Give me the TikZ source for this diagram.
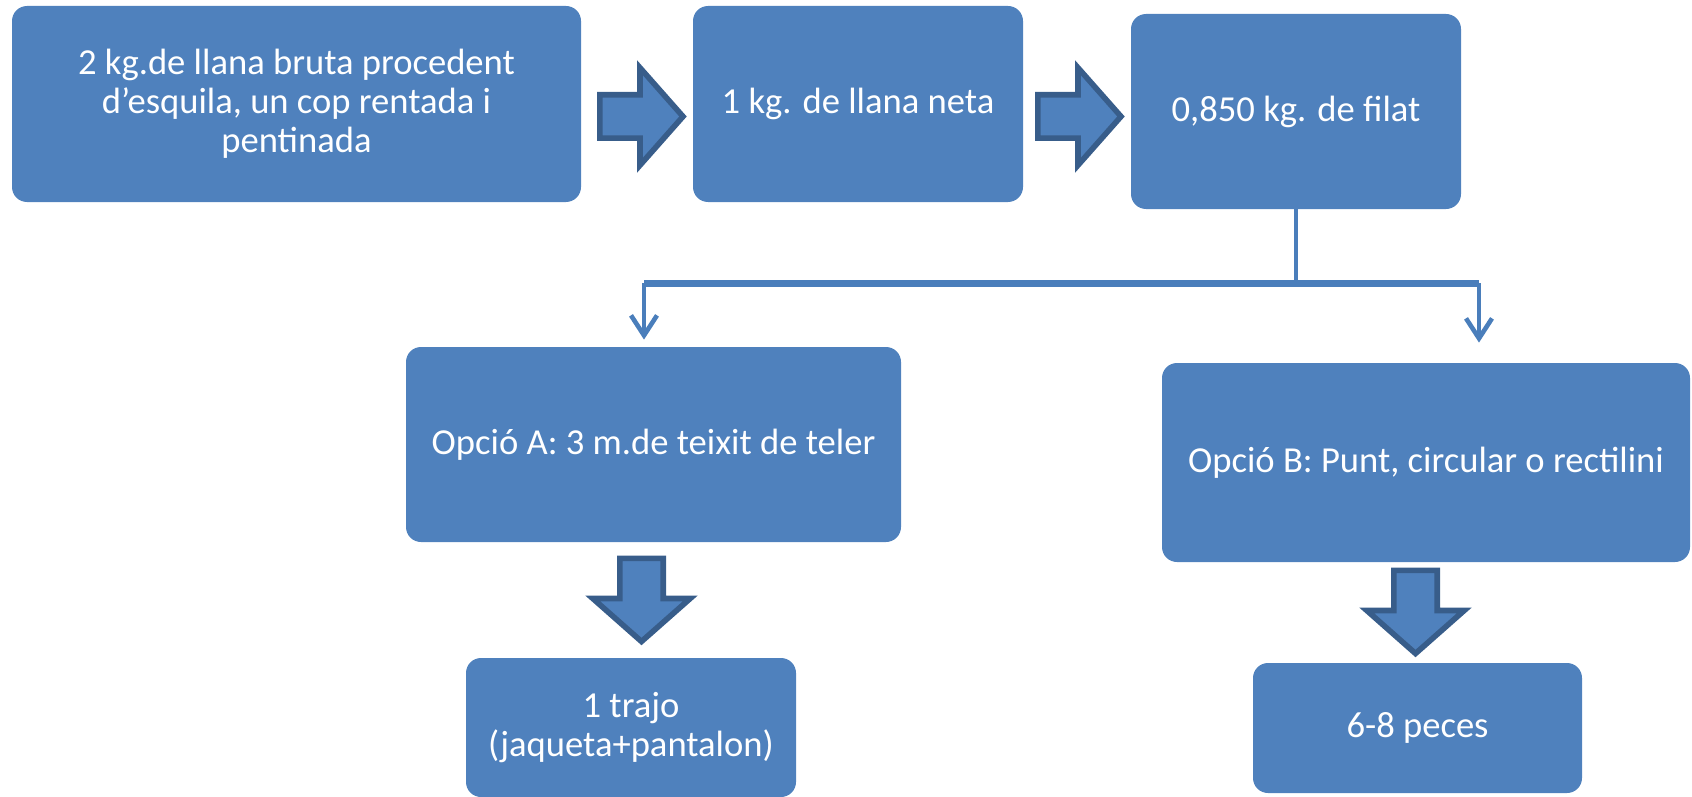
\documentclass[tikz,border=0pt]{standalone}
\usepackage{fontspec}
\setmainfont{Carlito}
\usetikzlibrary{arrows.meta}
\usetikzlibrary{positioning}
\definecolor{boxblue}{HTML}{4F81BD}
\definecolor{edgeblue}{HTML}{385D8A}
\definecolor{lineblue}{HTML}{4A7EBB}

\tikzset{
  pics/push/.style={code={
    \draw [draw=edgeblue,fill=boxblue,line width=2.8pt]
      (-21.1,-10.85) -- (-1,-10.85) -- (-1,-24.35) -- (20.5,0) -- (-1,24.35) -- (-1,10.85) -- (-21.1,10.85) -- cycle;
  }}
}

\begin{document}
\begin{tikzpicture}[x=1pt,y=1pt,
  stage/.style={fill=boxblue,rounded corners=7.5pt,text=white,align=center,inner sep=0pt,font=\fontsize{18.3}{19.5}\selectfont},
  link/.style={draw=lineblue,line width=2.3pt},
  bus/.style={draw=lineblue,line width=3.5pt},
  >={Straight Barb[length=10pt,width=13pt]}]
\useasboundingbox (0,0) rectangle (846,-398.5);
% top row
\node [stage,minimum width=284.5pt,minimum height=98pt] (wool) at (148.25,-52) {2 kg.de llana bruta procedent\\d’esquila, un cop rentada i\\pentinada};
\node [stage,minimum width=165pt,minimum height=98pt] (clean) at (429,-52) {1 kg. de llana neta};
\node [stage,minimum width=165pt,minimum height=97.5pt] (yarn) at (648,-55.75) {0,850 kg. de filat};
\pic (p1) at (321,-58.25) {push};
\pic (p2) at (540,-58.25) {push};
% options
\node [stage,minimum width=247.5pt,minimum height=97.5pt] (optA) at (326.75,-222.25) {Opció A: 3 m.de teixit de teler};
\node [stage,minimum width=264pt,minimum height=99.5pt] (optB) at (713,-231.25) {Opció B: Punt, circular o rectilini};
% results
\node [stage,minimum width=165pt,minimum height=69.5pt] (suit) at (315.5,-363.75) {1 trajo\\(jaqueta+pantalon)};
\node [stage,minimum width=164.5pt,minimum height=65pt] (pieces) at (708.75,-364) {6-8 peces};
\pic [rotate=-90] (pA) at (320.75,-300.25) {push};
\pic [rotate=-90] (pB) at (707.75,-306.25) {push};
% split
\coordinate (jA) at (322,-141.5);
\coordinate (jB) at (739.5,-141.5);
\draw [link] (yarn.south) -- (yarn.south |- jA);
\draw [bus] (jA) -- (jB);
\draw [link,->,shorten >=3.5pt] (jA) -- (jA |- optA.north);
\draw [link,->,shorten >=10pt] (jB) -- (jB |- optB.north);
\end{tikzpicture}
\end{document}
